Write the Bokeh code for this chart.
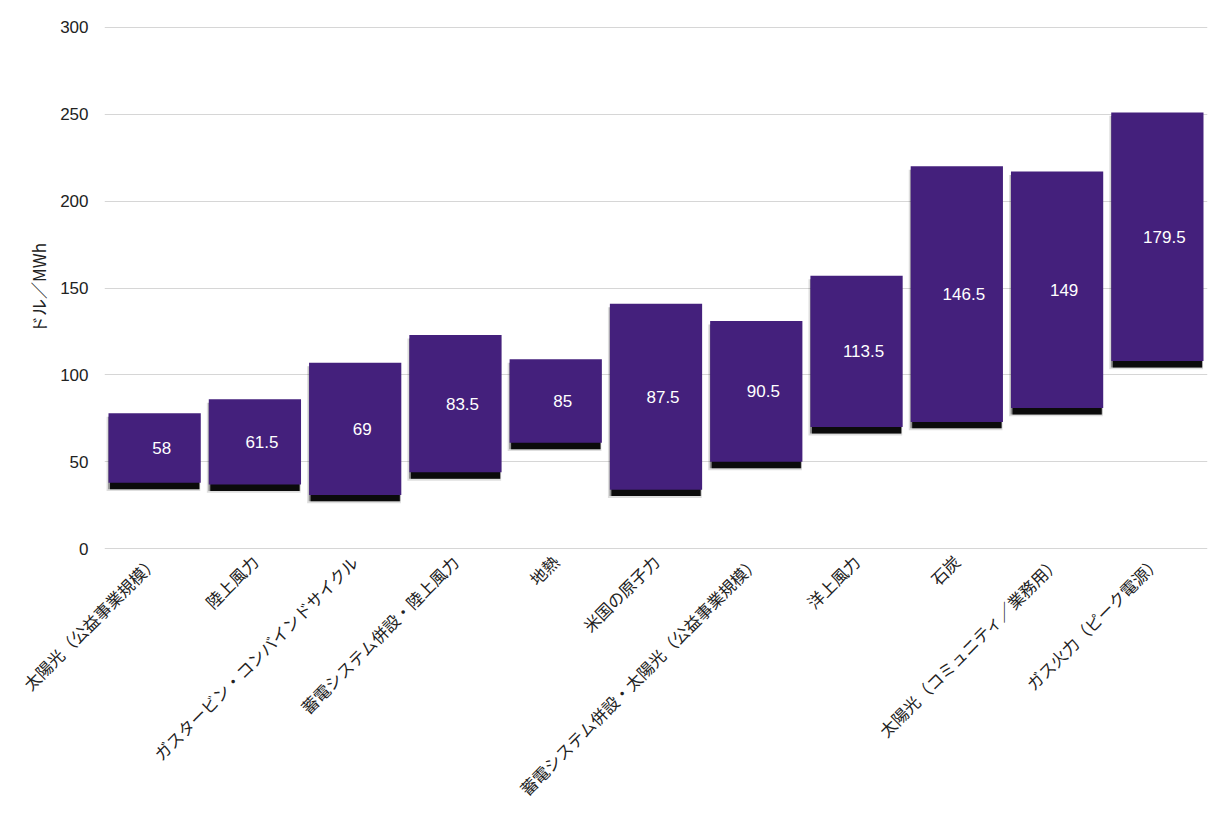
import math
from bokeh.plotting import figure
from bokeh.models import ColumnDataSource, FactorRange, Range1d, FixedTicker
from bokeh.core.properties import value
from bokeh.transform import dodge
from bokeh.embed import file_html
from bokeh.resources import INLINE

categories = [
    "太陽光（公益事業規模）",
    "陸上風力",
    "ガスタービン・コンバインドサイクル",
    "蓄電システム併設・陸上風力",
    "地熱",
    "米国の原子力",
    "蓄電システム併設・太陽光（公益事業規模）",
    "洋上風力",
    "石炭",
    "太陽光（コミュニティ／業務用）",
    "ガス火力（ピーク電源）",
]
low_values = [38, 37, 31, 44, 61, 34, 50, 70, 73, 81, 108]
high_values = [78, 86, 107, 123, 109, 141, 131, 157, 220, 217, 251]
y_ticks = [0, 50, 100, 150, 200, 250, 300]
y_title = "ドル／MWh"

mids = [(l + h) / 2 for l, h in zip(low_values, high_values)]
labels = [f"{m:g}" for m in mids]

src = ColumnDataSource(dict(
    cat=categories, low=low_values, high=high_values, mid=mids, label=labels,
    sh_low=[l - 3.7 for l in low_values], sh_low2=[l - 4.8 for l in low_values],
    sh_high=[h - 2 for h in high_values],
))

p = figure(
    x_range=FactorRange(*categories, range_padding=0),
    y_range=Range1d(-0.4, 300.4),
    width=1212, height=811,
    output_backend="svg", toolbar_location=None,
    min_border_left=104, min_border_top=26, min_border_right=5, min_border_bottom=262,
)
p.outline_line_color = None
p.background_fill_color = "white"

# soft shadow layers
p.vbar(x=dodge("cat", -0.012, range=p.x_range), width=0.935, bottom="sh_low2", top="sh_high",
       source=src, fill_color="black", fill_alpha=0.13, line_color=None)
p.vbar(x=dodge("cat", -0.006, range=p.x_range), width=0.915, bottom="sh_low", top="sh_high",
       source=src, fill_color="black", fill_alpha=0.35, line_color=None)
p.vbar(x=dodge("cat", 0.0, range=p.x_range), width=0.89, bottom="sh_low", top="sh_high",
       source=src, fill_color="black", fill_alpha=0.92, line_color=None)

p.vbar(x="cat", width=0.92, bottom="low", top="high", source=src,
       fill_color="#44207C", line_color=None)

p.text(x=dodge("cat", 0.07, range=p.x_range), y="mid", text="label", source=src,
       text_color="white", text_font=value("Liberation Sans"), text_font_size="17px",
       text_align="center", text_baseline="middle")

p.xgrid.grid_line_color = None
p.ygrid.grid_line_color = "#d6d6d6"
p.ygrid.grid_line_width = 1

p.yaxis.ticker = FixedTicker(ticks=y_ticks)
p.yaxis.axis_line_color = None
p.yaxis.major_tick_line_color = None
p.yaxis.minor_tick_line_color = None
p.yaxis.major_label_text_font = "Liberation Sans"
p.yaxis.major_label_text_font_size = "17px"
p.yaxis.major_label_text_color = "#222222"
p.yaxis.major_label_standoff = 10
p.yaxis.axis_label = y_title
p.yaxis.axis_label_text_font = "Noto Sans CJK JP"
p.yaxis.axis_label_text_font_style = "normal"
p.yaxis.axis_label_text_font_size = "17px"
p.yaxis.axis_label_text_color = "#222222"
p.yaxis.axis_label_standoff = 6

p.xaxis.axis_line_color = None
p.xaxis.major_tick_line_color = None
p.xaxis.minor_tick_line_color = None
p.xaxis.major_label_orientation = math.pi / 4
p.xaxis.major_label_text_font = "Noto Sans CJK JP"
p.xaxis.major_label_text_font_size = "16.5px"
p.xaxis.major_label_text_color = "#222222"
p.xaxis.major_label_standoff = 3

open("out.html", "w").write(file_html(p, INLINE))
